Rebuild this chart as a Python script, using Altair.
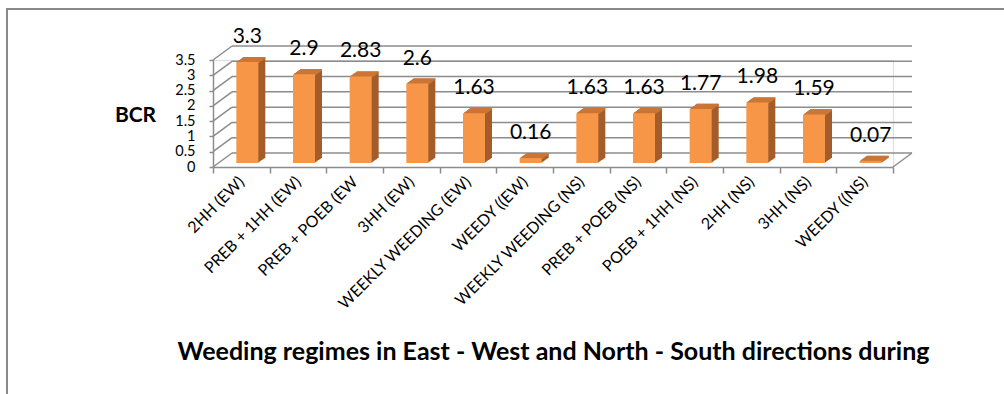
import altair as alt
import pandas as pd

categories = ["2HH (EW)", "PREB + 1HH (EW)", "PREB + POEB (EW", "3HH (EW)",
              "WEEKLY WEEDING (EW)", "WEEDY ((EW)", "WEEKLY WEEDING (NS)",
              "PREB + POEB (NS)", "POEB + 1HH (NS)", "2HH (NS)", "3HH (NS)", "WEEDY ((NS)"]
values = [3.3, 2.9, 2.83, 2.6, 1.63, 0.16, 1.63, 1.63, 1.77, 1.98, 1.59, 0.07]
value_labels = ["3.3", "2.9", "2.83", "2.6", "1.63", "0.16", "1.63", "1.63", "1.77", "1.98", "1.59", "0.07"]
y_ticks = [0, 0.5, 1, 1.5, 2, 2.5, 3, 3.5]

FRONT = "#F79646"
SIDE = "#A45D2A"
TOP = "#CB7636"
GRID = "#8C8C8C"
FONT = "Lato"

W, H = 680, 107
DX, DY = 19, -14
XTITLE = "Weeding  regimes in East - West and North - South directions during"

df = pd.DataFrame({"cat": categories, "val": values, "lbl": value_labels})
grid_df = pd.DataFrame({"val": y_ticks})
floor_df = pd.DataFrame({"val": [0]})
one = pd.DataFrame({"a": [0]})

x_axis = alt.Axis(labelAngle=-45, labelAlign="right", labelBaseline="middle",
                  labelFont=FONT, labelFontSize=16, labelColor="#000000",
                  labelPadding=6, labelLimit=0, tickBand="extent", tickSize=6,
                  tickColor=GRID, tickWidth=1.5, domainColor=GRID, domainWidth=1.5,
                  titleFont=FONT, titleFontSize=25, titleFontWeight="bold",
                  titleColor="#000000", titleY=184, titleBaseline="middle",
                  labelOverlap=False)
y_axis = alt.Axis(values=y_ticks, format="~g", grid=False, labelFont=FONT,
                  labelFontSize=14.5, labelOverlap=False,
                  labelColor="#000000", tickSize=4, tickColor=GRID, tickWidth=1.5,
                  domainColor=GRID, domainWidth=1.5, labelPadding=14,
                  titleAngle=0, titleX=-78, titleY=55, titleAlign="center",
                  titleBaseline="middle", titleFont=FONT, titleFontSize=21,
                  titleFontWeight="bold", titleColor="#000000")

xs = alt.X("cat:N", sort=categories,
           scale=alt.Scale(paddingInner=0, paddingOuter=0), axis=x_axis, title=XTITLE)
ys = alt.Y("val:Q", scale=alt.Scale(domain=[0, 3.5], nice=False, zero=True),
           axis=y_axis, title="BCR")

# back wall gridlines
back_grid = alt.Chart(grid_df).mark_rule(color=GRID, strokeWidth=1.5, yOffset=DY).encode(
    y=ys, x=alt.value(DX), x2=alt.value(W + DX))
# side wall diagonals
diag = alt.Chart(grid_df).mark_rule(color=GRID, strokeWidth=1.5, y2Offset=DY).encode(
    y=ys, y2="val:Q", x=alt.value(0), x2=alt.value(DX))
floor_right = alt.Chart(floor_df).mark_rule(color=GRID, strokeWidth=1.5, y2Offset=DY).encode(
    y=ys, y2="val:Q", x=alt.value(W), x2=alt.value(W + DX))

layers = [back_grid, diag, floor_right]

BW = 22
XO, YO = 6, -4
DEPTH = 7
for i in range(1, DEPTH + 1):
    off = YO - i * 0.72
    layers.append(alt.Chart(df).mark_bar(width=BW, color=SIDE, xOffset=XO + i,
                                         yOffset=off, y2Offset=off).encode(x=xs, y=ys))
for i in range(1, DEPTH + 1):
    off = YO - i * 0.72
    layers.append(alt.Chart(df).mark_bar(width=BW, color=TOP, xOffset=XO + i,
                                         yOffset=off, y2Offset=off + 1.6).encode(
        x=xs, y=ys, y2="val:Q"))
layers.append(alt.Chart(df).mark_bar(width=BW, color=FRONT, xOffset=XO,
                                     yOffset=YO, y2Offset=YO).encode(x=xs, y=ys))
layers.append(alt.Chart(df).mark_text(font=FONT, fontSize=21, color="#000000",
                                      xOffset=XO, yOffset=-29, baseline="middle").encode(
    x=xs, y=ys, text="lbl:N"))

# outer frame
frame_top = alt.Chart(one).mark_rule(color="#8A8A8A", strokeWidth=2).encode(
    x=alt.value(-206), x2=alt.value(800), y=alt.value(-51))
frame_left = alt.Chart(one).mark_rule(color="#8A8A8A", strokeWidth=2).encode(
    x=alt.value(-206), y=alt.value(-52), y2=alt.value(340))
layers += [frame_top, frame_left]

chart = alt.layer(*layers).properties(
    width=W, height=H,
    autosize=alt.AutoSizeParams(type="none"),
    padding={"left": 213, "top": 60, "right": 111, "bottom": 227},
).configure_view(stroke=None).configure(background="white")

chart.save("out.html", embed_options={"renderer": "svg", "actions": False})
